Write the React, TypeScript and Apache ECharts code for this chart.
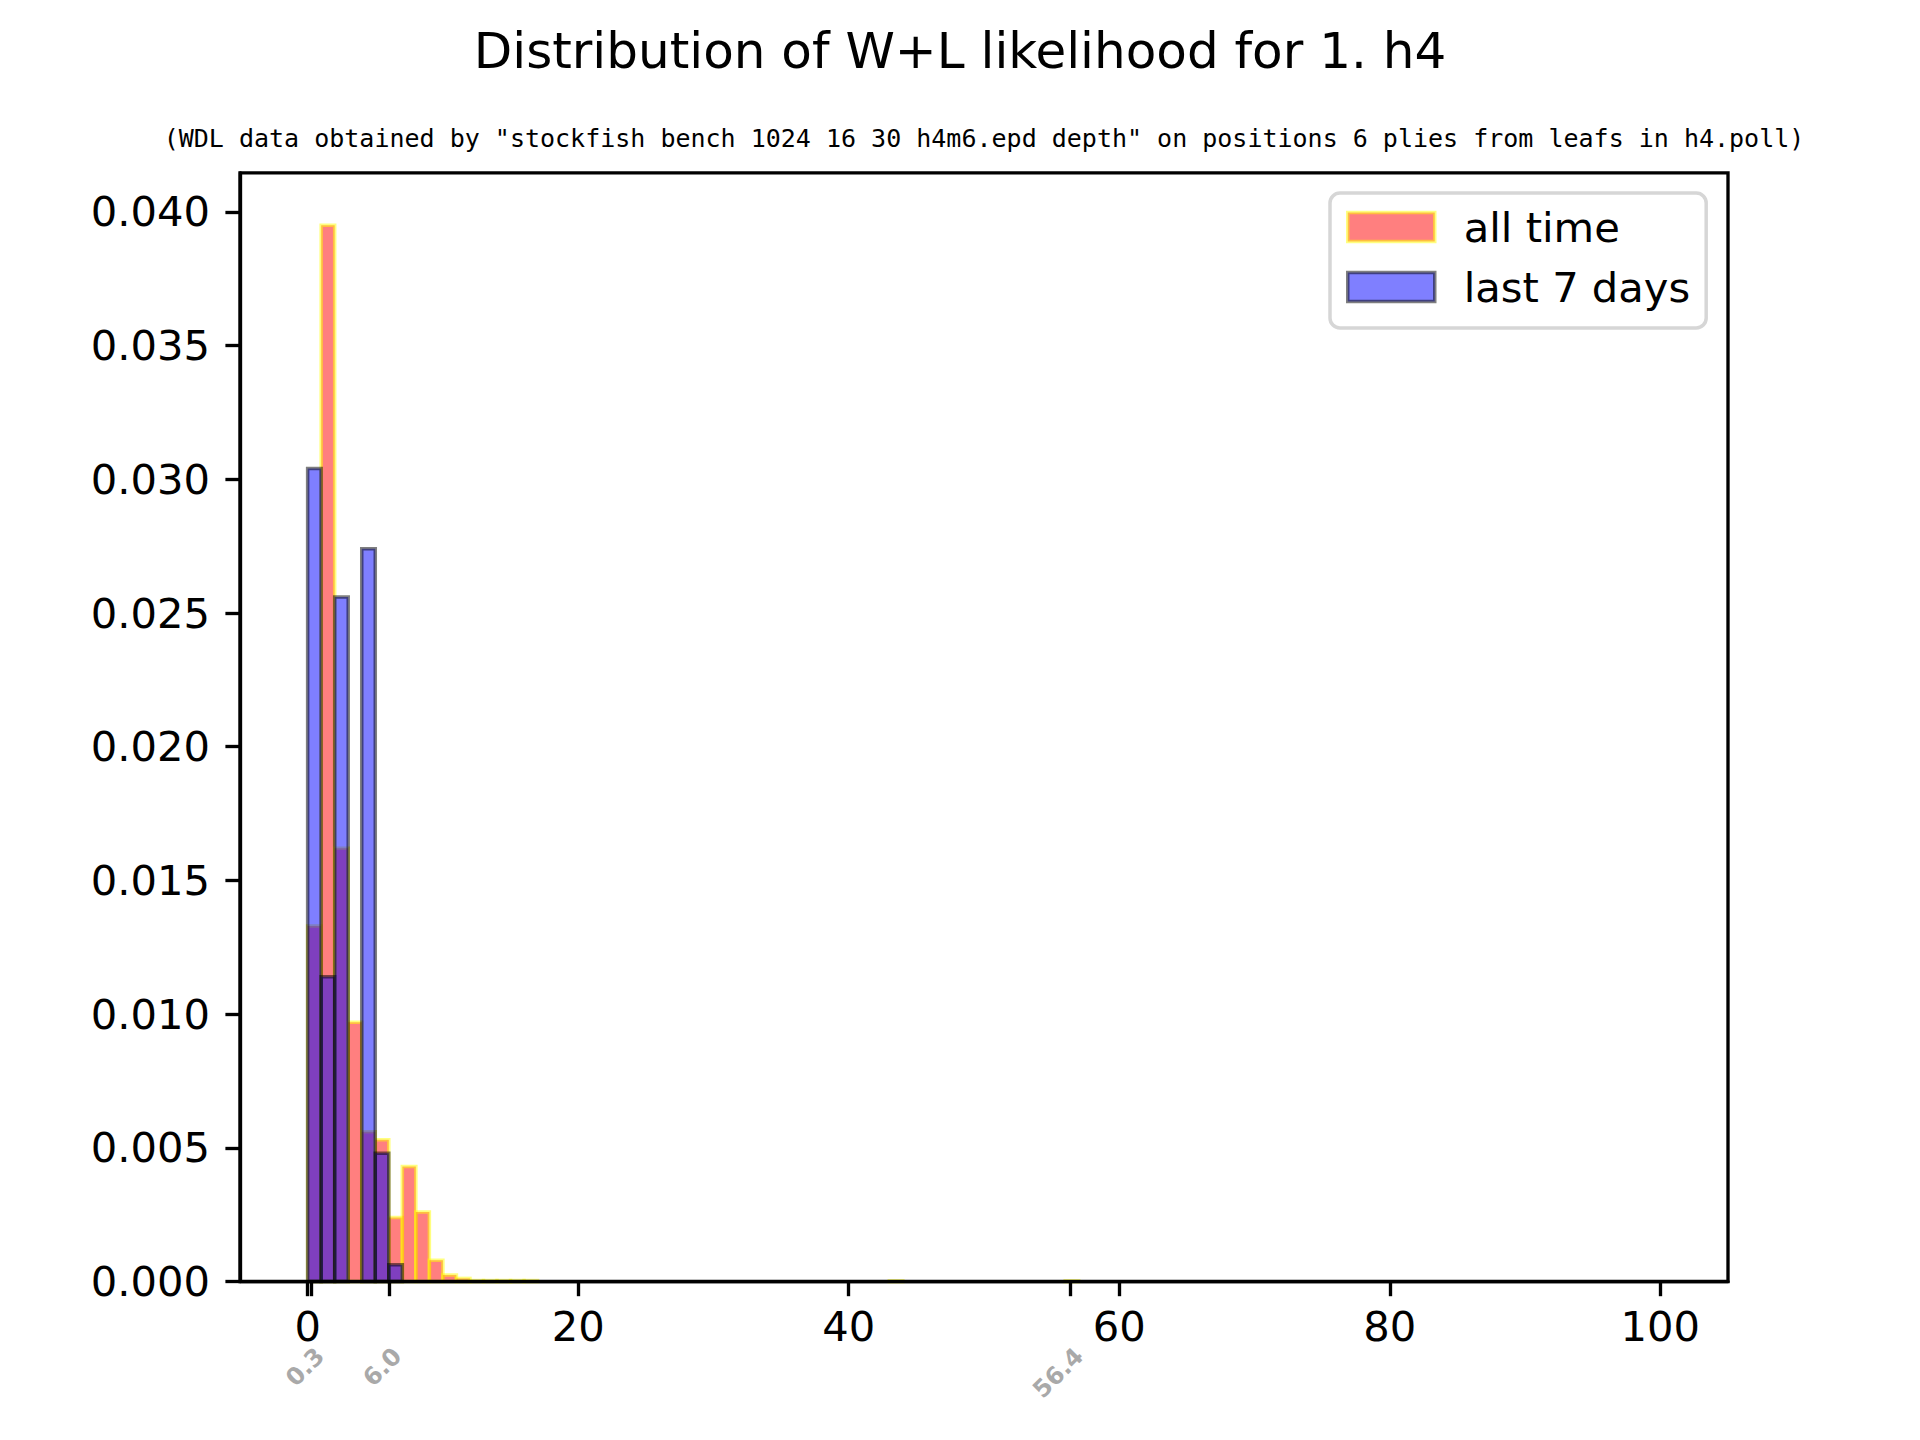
import React, { useEffect, useRef } from "react";
import * as echarts from "echarts";

const TITLE = "Distribution of W+L likelihood for 1. h4";
const SUBTITLE =
  '(WDL data obtained by "stockfish bench 1024 16 30 h4m6.epd depth" on positions 6 plies from leafs in h4.poll)';
const SERIES_NAMES = ["all time", "last 7 days"];

// histogram bins (left edges) and densities
const BIN_WIDTH = 1;
const allTimeBinStarts = [0, 1, 2, 3, 4, 5, 6, 7, 8, 9, 10, 11, 12, 13, 14, 15, 16, 43, 56];
const allTimeDensity = [
  0.0133, 0.0395, 0.0162, 0.0097, 0.0056, 0.0053, 0.0024, 0.0043, 0.0026, 0.0008, 0.00025,
  0.00012, 0.00004, 0.00004, 0.00004, 0.00004, 0.00004, 0.00003, 0.00003,
];
const last7BinStarts = [0, 1, 2, 4, 5, 6];
const last7Density = [0.0304, 0.0114, 0.0256, 0.0274, 0.0048, 0.00063];

const xTickValues = [0, 20, 40, 60, 80, 100];
const yTickValues = [0, 0.005, 0.01, 0.015, 0.02, 0.025, 0.03, 0.035, 0.04];
const markerValues = [0.3, 6.0, 56.4];

const X_MIN = -5;
const X_MAX = 105;
const Y_MAX = 0.04146;

const FONT = "DejaVu Sans";
const MONO = "DejaVu Sans Mono";
const FS = 41.67;
const LW = 3.33;
const EDGE = 3.5;

const RED_FILL = "rgba(255,0,0,0.5)";
const RED_EDGE = "rgba(255,255,0,0.5)";
const BLUE_FILL = "rgba(0,0,255,0.5)";
const BLUE_EDGE = "rgba(0,0,0,0.5)";

function histData(starts: number[], vals: number[]) {
  return starts.map((s, i) => [s, s + BIN_WIDTH, vals[i]]);
}

function makeRender(fill: string, stroke: string) {
  return (params: any, api: any) => {
    const x0 = api.value(0);
    const x1 = api.value(1);
    const h = api.value(2);
    const p0 = api.coord([x0, h]);
    const p1 = api.coord([x1, 0]);
    return {
      type: "rect",
      shape: { x: p0[0], y: p0[1], width: p1[0] - p0[0], height: p1[1] - p0[1] },
      style: { fill, stroke, lineWidth: EDGE },
    };
  };
}

export default function App() {
  const ref = useRef<HTMLDivElement>(null);
  useEffect(() => {
    document.body.style.margin = "0";
    const chart = echarts.init(ref.current!, null, { renderer: "svg" });
    chart.setOption({
      animation: false,
      backgroundColor: "#ffffff",
      textStyle: { fontFamily: FONT },
      grid: {
        left: 240,
        right: 192,
        top: 172.8,
        bottom: 158.4,
        show: true,
        borderColor: "#000",
        borderWidth: LW,
        backgroundColor: "transparent",
      },
      graphic: [
        {
          type: "text",
          x: 960,
          y: 51,
          style: {
            text: TITLE,
            fontFamily: FONT,
            fontSize: 50,
            fill: "#000",
            align: "center",
            verticalAlign: "middle",
          },
        },
        {
          type: "text",
          x: 984,
          y: 138,
          style: {
            text: SUBTITLE,
            fontFamily: MONO,
            fontSize: 25,
            fill: "#000",
            align: "center",
            verticalAlign: "middle",
          },
        },
      ],
      legend: {
        orient: "vertical",
        left: 1330,
        top: 193,
        padding: [13, 16, 20, 16],
        itemWidth: 87,
        itemHeight: 29,
        itemGap: 18,
        icon: "rect",
        borderColor: "rgba(204,204,204,0.8)",
        borderWidth: 3.5,
        borderRadius: 10,
        backgroundColor: "rgba(255,255,255,0.8)",
        textStyle: { fontFamily: FONT, fontSize: FS, color: "#000", padding: [0, 0, 0, 24] },
        data: [
          {
            name: SERIES_NAMES[0],
            itemStyle: { color: RED_FILL, borderColor: RED_EDGE, borderWidth: EDGE },
          },
          {
            name: SERIES_NAMES[1],
            itemStyle: { color: BLUE_FILL, borderColor: BLUE_EDGE, borderWidth: EDGE },
          },
        ],
      },
      xAxis: [
        {
          type: "value",
          min: X_MIN,
          max: X_MAX,
          position: "bottom",
          z: 10,
          axisLine: { show: true, onZero: false, lineStyle: { color: "#000", width: LW } },
          axisTick: {
            show: true,
            length: 14.6,
            lineStyle: { color: "#000", width: LW },
            customValues: xTickValues,
          },
          axisLabel: {
            customValues: xTickValues,
            fontFamily: FONT,
            fontSize: FS,
            color: "#000",
            margin: 24,
            formatter: (v: number) => String(v),
          },
          splitLine: { show: false },
        },
        {
          type: "value",
          min: X_MIN,
          max: X_MAX,
          position: "bottom",
          z: 10,
          axisLine: { show: false, onZero: false },
          axisTick: {
            show: true,
            length: 14.6,
            lineStyle: { color: "#000", width: LW },
            customValues: markerValues,
          },
          axisLabel: {
            customValues: markerValues,
            fontFamily: FONT,
            fontSize: 24,
            fontWeight: "bold",
            color: "#a9a9a9",
            rotate: 45,
            verticalAlign: "top",
            margin: 62,
            formatter: (v: number) => v.toFixed(1),
          },
          splitLine: { show: false },
        },
      ],
      yAxis: {
        type: "value",
        min: 0,
        max: Y_MAX,
        z: 10,
        axisLine: { show: true, onZero: false, lineStyle: { color: "#000", width: LW } },
        axisTick: {
          show: true,
          length: 14.6,
          lineStyle: { color: "#000", width: LW },
          customValues: yTickValues,
        },
        axisLabel: {
          customValues: yTickValues,
          fontFamily: FONT,
          fontSize: FS,
          color: "#000",
          margin: 30,
          formatter: (v: number) => v.toFixed(3),
        },
        splitLine: { show: false },
      },
      series: [
        {
          name: SERIES_NAMES[0],
          type: "custom",
          xAxisIndex: 0,
          yAxisIndex: 0,
          itemStyle: { color: RED_FILL, borderColor: RED_EDGE, borderWidth: EDGE },
          encode: { x: [0, 1], y: 2 },
          data: histData(allTimeBinStarts, allTimeDensity),
          renderItem: makeRender(RED_FILL, RED_EDGE),
        },
        {
          name: SERIES_NAMES[1],
          type: "custom",
          xAxisIndex: 0,
          yAxisIndex: 0,
          itemStyle: { color: BLUE_FILL, borderColor: BLUE_EDGE, borderWidth: EDGE },
          encode: { x: [0, 1], y: 2 },
          data: histData(last7BinStarts, last7Density),
          renderItem: makeRender(BLUE_FILL, BLUE_EDGE),
        },
      ],
    });
    return () => chart.dispose();
  }, []);
  return <div ref={ref} style={{ width: 1920, height: 1440 }} />;
}
